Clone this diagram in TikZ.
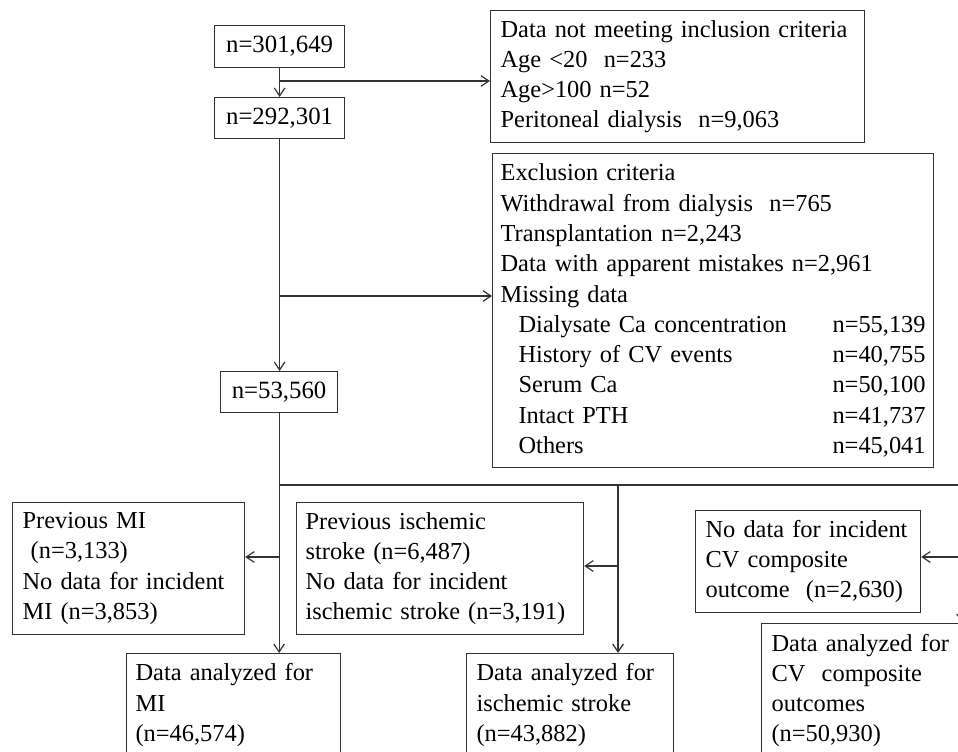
\documentclass[tikz,border=0pt]{standalone}
\usepackage{fontspec}
\setmainfont{Liberation Serif}
\usetikzlibrary{arrows.meta}
\newcommand\boxfont{\fontsize{18.3}{22.7}\selectfont\hyphenpenalty=10000\relax\exhyphenpenalty=10000\relax}

\begin{document}
\begin{tikzpicture}[x=0.75pt,y=-0.75pt,
    box/.style={draw=black!80, line width=0.9pt, rectangle, anchor=north west,
      align=left, inner ysep=0pt, font=\boxfont},
    numbox/.style={draw=black!80, line width=0.9pt, rectangle, anchor=north west,
      inner sep=0pt, font=\fontsize{18.6}{22.7}\selectfont},
    link/.style={draw=black!80, line width=0.9pt},
    arr/.style={link, -{Straight Barb[length=6pt,width=8pt]}}]
  % Frame
  \useasboundingbox (0,0) rectangle (958,752);
  \clip (0,0) rectangle (958,752);

  % Counts
  \node[numbox, minimum width=97.5pt, minimum height=31.5pt] (all) at (214,25) {n=301,649};
  \node[numbox, minimum width=97.5pt, minimum height=30.75pt] (incl) at (214,97) {n=292,301};
  \node[numbox, minimum width=87.75pt, minimum height=30.75pt] (final) at (220,371) {n=53,560};

  % Inclusion and exclusion
  \node[box, inner xsep=7.5pt, text width=265.5pt, minimum height=99pt] (notmeet) at (490,10)
    {Data not meeting inclusion criteria\\
     Age <20\ \ n=233\\
     Age>100 n=52\\
     Peritoneal dialysis\ \ n=9,063};
  \node[box, inner xsep=6pt, text width=318.75pt, minimum height=235.5pt] (excl) at (492,153)
    {Exclusion criteria\\
     Withdrawal from dialysis\ \ n=765\\
     Transplantation n=2,243\\
     Data with apparent mistakes n=2,961\\
     Missing data\\
     \hspace*{13.5pt}Dialysate Ca concentration\hfill n=55,139\hspace*{9pt}\\
     \hspace*{13.5pt}History of CV events\hfill n=40,755\hspace*{7pt}\\
     \hspace*{13.5pt}Serum Ca\hfill n=50,100\hspace*{7pt}\\
     \hspace*{13.5pt}Intact PTH\hfill n=41,737\hspace*{8pt}\\
     \hspace*{13.5pt}Others\hfill n=45,041\hspace*{8pt}};

  % Outcome exclusions
  \node[box, inner xsep=7.5pt, text width=159pt, minimum height=99pt] (prevmi) at (12,502)
    {Previous MI\\
     \ (n=3,133)\\
     No data for incident\\
     MI (n=3,853)};
  \node[box, inner xsep=6.75pt, text width=201.75pt, minimum height=99pt] (prevst) at (296,502)
    {Previous ischemic\\
     stroke (n=6,487)\\
     No data for incident\\
     ischemic stroke (n=3,191)};
  \node[box, inner xsep=7.5pt, text width=153.75pt, minimum height=76.5pt] (nocv) at (695,510)
    {No data for incident\\
     CV composite\\
     outcome\ \ (n=2,630)};

  % Analyzed sets
  \node[box, inner xsep=6.75pt, text width=147pt, minimum height=77.25pt] (anmi) at (126,653)
    {Data analyzed for\\
     MI\\
     (n=46,574)};
  \node[box, inner xsep=7.5pt, text width=140.25pt, minimum height=77.25pt] (anst) at (466,653)
    {Data analyzed for\\
     ischemic stroke\\
     (n=43,882)};
  \node[box, inner xsep=7.5pt, text width=165pt, minimum height=100.5pt] (ancv) at (761,623)
    {Data analyzed for\\
     CV\ \ composite\\
     outcomes\\
     (n=50,930)};

  % Junctions
  \coordinate (j1) at (279,81);
  \coordinate (j2) at (279,296);
  \coordinate (j3) at (278.5,557);
  \coordinate (j4) at (278.5,485);
  \coordinate (jm) at (618,485);
  \coordinate (jms) at (618,566);
  \coordinate (jr) at (962,485);
  \coordinate (jrs) at (962,557);

  % Connectors
  \draw[arr] (all.south) -- (incl.north);
  \draw[arr] (j1) -- (j1 -| notmeet.west);
  \draw[arr] (incl.south) -- (incl.south |- final.north);
  \draw[arr] (j2) -- (j2 -| excl.west);
  \draw[arr] (final.south) -- (final.south |- anmi.north);
  \draw[arr] (j3) -- (j3 -| prevmi.east);
  \draw[link] (j4) -- (jr);
  \draw[arr] (jm) -- (jm |- anst.north);
  \draw[arr] (jms) -- (jms -| prevst.east);
  \draw[arr] (jr) -- (jr |- ancv.north);
  \draw[arr] (jrs) -- (jrs -| nocv.east);

\end{tikzpicture}
\end{document}
